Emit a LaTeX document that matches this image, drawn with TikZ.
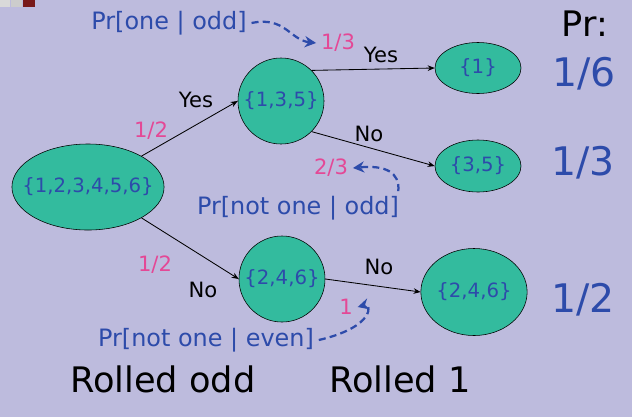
\documentclass[tikz,border=0pt]{standalone}
\usepackage{fontspec}
\setmainfont{DejaVu Sans}
\usetikzlibrary{shapes.geometric,arrows.meta}
\definecolor{slidebg}{RGB}{189,187,221}
\definecolor{setfill}{RGB}{51,187,158}
\definecolor{setblue}{RGB}{45,75,170}
\definecolor{probpink}{RGB}{228,72,150}
\definecolor{btnred}{RGB}{120,25,25}
\begin{document}
\begin{tikzpicture}[x=0.025cm,y=-0.025cm,
  setnode/.style={ellipse,draw=black,fill=setfill,inner sep=0pt,text=setblue,font=\fontsize{14}{16}\selectfont},
  answer/.style={text=black,font=\fontsize{15}{17}\selectfont},
  prob/.style={text=probpink,font=\fontsize{15}{17}\selectfont},
  cond/.style={text=setblue,font=\fontsize{17}{20}\selectfont},
  total/.style={text=setblue,font=\fontsize{28}{32}\selectfont},
  branch/.style={draw=black,semithick,-{Stealth[length=5pt,width=4pt]}},
  pointer/.style={draw=setblue,line width=1.6pt,dashed,dash pattern=on 5pt off 3pt,-{Stealth[length=8pt,width=8pt]}}]
\fill[slidebg] (0,0) rectangle (632,417);
\useasboundingbox (0,0) rectangle (632,417);
% slide buttons
\fill[gray!30] (0,0) rectangle (10,7);
\fill[gray!40] (11,0) rectangle (22,7);
\fill[btnred] (23,0) rectangle (35,7);

\node[setnode,inner xsep=-8.5pt,minimum width=3.75cm,minimum height=2.15cm] (all) at (88,187) {\{1,2,3,4,5,6\}};
\node[setnode,circle,minimum size=2.15cm] (odd) at (281,101) {\{1,3,5\}};
\node[setnode,circle,minimum size=2.15cm] (even) at (282,279) {\{2,4,6\}};
\node[setnode,minimum width=2.15cm,minimum height=1.275cm] (one) at (478,68) {\{1\}};
\node[setnode,minimum width=2.15cm,minimum height=1.3cm] (notone) at (478,166) {\{3,5\}};
\node[setnode,minimum width=2.3cm,minimum height=2.175cm] (evenleaf) at (474,292) {\{2,4,6\}};

\draw[branch] (all.30) -- (odd.180);
\draw[branch] (all.-30) -- (even.180);
\draw[branch] (odd.45) -- (one.west);
\draw[branch] (odd.-45) -- (notone.west);
\draw[branch] (even.east) -- (evenleaf.west);

% branch labels
\node[answer] (yesodd) at (196,100) {Yes};
\node[prob] (halfodd) at (151,131) {1/2};
\node[prob] (halfeven) at (155,265) {1/2};
\node[answer] (noeven) at (203,290) {No};
\node[prob] (p13) at (338,43) {1/3};
\node[answer] (yesone) at (381,55) {Yes};
\node[answer] (nonotone) at (369,134) {No};
\node[prob] (p23) at (331,168) {2/3};
\node[answer] (noevenleaf) at (379,267) {No};
\node[prob] (p1) at (346,307) {1};

% conditional probabilities
\node[cond] (prone) at (169,23) {Pr[one | odd]};
\node[cond] (prnotodd) at (298,208) {Pr[not one | odd]};
\node[cond] (prnoteven) at (206,340) {Pr[not one | even]};
\draw[pointer] (prone.east) .. controls (285,16) and (290,40) .. (p13.west);
\draw[pointer] ([xshift=-4pt]prnotodd.north east) .. controls (400,172) and (385,165) .. (p23.east);
\draw[pointer] (prnoteven.east) .. controls (375,327) and (372,303) .. (p1.east);

% totals
\node[text=black,font=\fontsize{25}{28}\selectfont] (prhead) at (585,24) {Pr:};
\node[total] (tot1) at (584,74) {1/6};
\node[total] (tot2) at (583,163) {1/3};
\node[total] (tot3) at (583,300) {1/2};

\node[text=black,font=\fontsize{25}{30}\selectfont] (rolledodd) at (163,379) {Rolled odd};
\node[text=black,font=\fontsize{25}{30}\selectfont] (rolledone) at (400,379) {Rolled 1};
\end{tikzpicture}
\end{document}
